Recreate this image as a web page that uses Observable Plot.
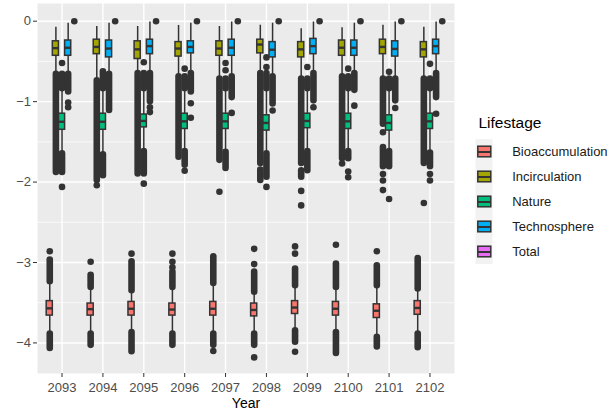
<!DOCTYPE html>
<html><head><meta charset="utf-8">
<script src="https://cdn.jsdelivr.net/npm/d3@7"></script>
<script src="https://cdn.jsdelivr.net/npm/@observablehq/plot@0.6"></script>
<style>
body{margin:0;background:#fff;}
#wrap{position:relative;width:610px;height:409px;}
#wrap svg{position:absolute;}
</style></head><body><div id="wrap"></div>
<script>
const FONT = '"Liberation Sans", Arial, Helvetica, sans-serif';

const years = [2093, 2094, 2095, 2096, 2097, 2098, 2099, 2100, 2101, 2102];
const stages = ["Bioaccumulation", "Incirculation", "Nature", "Technosphere", "Total"];
const stageColors = ["#F8766D", "#A3A500", "#00BF7D", "#00B0F6", "#E76BF3"];
const yTicks = [0, -1, -2, -3, -4];
const yMinor = [-0.5, -1.5, -2.5, -3.5];
const xTitle = "Year";
const legendTitle = "Lifestage";

// Box statistics (lower whisker, Q1, median, Q3, upper whisker) per year
const bioLo  = [-3.89, -3.89, -3.87, -3.89, -3.89, -3.89, -3.85, -3.87, -3.93, -3.89];
const bioQ1  = [-3.66, -3.66, -3.66, -3.66, -3.66, -3.67, -3.64, -3.66, -3.69, -3.65];
const bioMed = [-3.57, -3.58, -3.575, -3.585, -3.575, -3.59, -3.56, -3.575, -3.60, -3.565];
const bioQ3  = [-3.48, -3.51, -3.49, -3.51, -3.49, -3.51, -3.48, -3.49, -3.52, -3.48];
const bioHi  = [-3.24, -3.31, -3.35, -3.31, -3.26, -3.37, -3.29, -3.31, -3.29, -3.33];

const incLo  = [-0.64, -0.72, -0.63, -0.67, -0.70, -0.63, -0.70, -0.67, -0.70, -0.70];
const incQ1  = [-0.43, -0.41, -0.47, -0.44, -0.43, -0.40, -0.45, -0.43, -0.41, -0.45];
const incMed = [-0.335, -0.32, -0.35, -0.34, -0.34, -0.29, -0.35, -0.33, -0.32, -0.35];
const incQ3  = [-0.25, -0.23, -0.25, -0.26, -0.25, -0.23, -0.26, -0.24, -0.23, -0.26];
const incHi  = [-0.075, -0.066, -0.066, -0.053, -0.066, -0.05, -0.095, -0.08, -0.05, -0.075];

const natLo  = [-1.63, -1.64, -1.61, -1.61, -1.62, -1.64, -1.61, -1.61, -1.61, -1.63];
const natQ1  = [-1.35, -1.35, -1.32, -1.34, -1.34, -1.36, -1.33, -1.34, -1.36, -1.34];
const natMed = [-1.25, -1.25, -1.24, -1.245, -1.245, -1.265, -1.24, -1.245, -1.265, -1.245];
const natQ3  = [-1.15, -1.15, -1.16, -1.15, -1.15, -1.17, -1.15, -1.15, -1.17, -1.15];
const natHi  = [-0.86, -0.86, -0.86, -0.86, -0.86, -0.86, -0.86, -0.86, -0.86, -0.86];

const tecLo  = [-0.64, -0.64, -0.63, -0.63, -0.67, -0.67, -0.63, -0.63, -0.70, -0.63];
const tecQ1  = [-0.43, -0.45, -0.41, -0.40, -0.43, -0.45, -0.41, -0.43, -0.44, -0.41];
const tecMed = [-0.33, -0.34, -0.31, -0.32, -0.33, -0.355, -0.31, -0.33, -0.345, -0.31];
const tecQ3  = [-0.24, -0.24, -0.23, -0.25, -0.23, -0.26, -0.22, -0.24, -0.25, -0.23];
const tecHi  = [-0.025, -0.025, -0.01, -0.025, -0.01, -0.025, -0.01, -0.025, -0.01, -0.01];

const totalValue = [0, 0, 0, 0, 0, 0, 0, 0, 0, 0];

// Dense outlier runs [year, from, to]
const bioRuns = [
  [2093, -2.97, -3.24], [2093, -3.89, -4.07],
  [2094, -3.16, -3.31], [2094, -3.89, -4.03],
  [2095, -2.99, -3.35], [2095, -3.87, -4.11],
  [2096, -3.12, -3.31], [2096, -3.89, -4.03],
  [2097, -2.93, -3.26], [2097, -3.89, -4.03],
  [2098, -3.12, -3.37], [2098, -3.89, -4.03],
  [2099, -3.08, -3.29], [2099, -3.85, -3.99],
  [2100, -3.02, -3.31], [2100, -3.87, -4.13],
  [2101, -3.04, -3.29], [2101, -3.93, -4.05],
  [2102, -2.95, -3.33], [2102, -3.89, -4.06]
];
const incRuns = [
  [2093, -0.66, -1.88], [2094, -0.74, -1.98], [2095, -0.65, -1.90],
  [2096, -0.69, -1.69], [2097, -0.72, -1.73], [2098, -0.65, -1.77],
  [2098, -1.85, -1.98], [2099, -0.72, -1.77], [2099, -1.86, -1.94],
  [2100, -0.69, -1.71], [2101, -0.72, -1.28], [2101, -1.57, -1.81],
  [2102, -0.72, -1.77]
];
const natRuns = [
  [2093, -0.66, -0.84], [2093, -1.65, -1.88],
  [2094, -0.63, -0.84], [2094, -1.66, -1.92],
  [2095, -0.65, -0.84], [2095, -1.62, -1.90],
  [2096, -0.69, -0.84], [2096, -1.62, -1.79],
  [2097, -0.72, -0.84], [2097, -1.63, -1.83],
  [2098, -0.65, -0.84], [2098, -1.65, -1.94],
  [2099, -0.72, -0.84], [2099, -1.62, -1.86],
  [2100, -0.69, -0.84], [2100, -1.62, -1.71],
  [2101, -0.72, -0.84], [2101, -1.62, -1.81],
  [2102, -0.72, -0.84], [2102, -1.64, -1.81]
];
const tecRuns = [
  [2093, -0.66, -0.88], [2094, -0.66, -1.11], [2095, -0.65, -1.00],
  [2096, -0.65, -0.88], [2097, -0.69, -0.95], [2098, -0.69, -1.03],
  [2099, -0.65, -0.99], [2100, -0.65, -0.86], [2101, -0.72, -0.99],
  [2102, -0.65, -0.95]
];

// Isolated outliers [year, value]
const bioPoints = [
  [2093, -2.86], [2094, -2.99], [2095, -2.89], [2096, -2.89], [2096, -2.99], [2096, -3.06],
  [2097, -4.10], [2098, -2.83], [2098, -3.02], [2098, -4.18], [2099, -2.80], [2099, -2.89],
  [2099, -4.11], [2100, -2.78], [2101, -2.86]
];
const incPoints = [
  [2094, -2.04], [2097, -2.12], [2099, -2.11], [2099, -2.29], [2100, -1.77],
  [2101, -1.38], [2101, -1.90], [2101, -1.98], [2101, -2.10], [2102, -2.26]
];
const natPoints = [
  [2093, -0.52], [2093, -2.06], [2095, -0.51], [2095, -2.02], [2096, -0.59], [2096, -1.86],
  [2097, -0.52], [2097, -0.61], [2098, -0.45], [2098, -0.57], [2098, -2.06], [2099, -0.57],
  [2100, -0.59], [2100, -1.87], [2100, -1.94], [2101, -0.63], [2101, -2.21],
  [2102, -0.53], [2102, -1.90], [2102, -1.98]
];
const tecPoints = [
  [2093, -1.01], [2093, -1.07], [2095, -1.07], [2095, -1.13], [2096, -1.02], [2096, -1.20],
  [2097, -1.14], [2098, -1.11], [2099, -1.07], [2100, -1.05], [2101, -1.08], [2102, -1.15]
];

// ---- build tables ----
const dodge = stages.map((s, i) => (i - 2) * 0.15);
const halfW = 0.075;
const statSets = [
  [bioLo, bioQ1, bioMed, bioQ3, bioHi],
  [incLo, incQ1, incMed, incQ3, incHi],
  [natLo, natQ1, natMed, natQ3, natHi],
  [tecLo, tecQ1, tecMed, tecQ3, tecHi]
];
const boxes = [];
statSets.forEach((st, si) => {
  years.forEach((yr, j) => {
    boxes.push({stage: stages[si], pos: yr + dodge[si], lo: st[0][j], q1: st[1][j], med: st[2][j], q3: st[3][j], hi: st[4][j]});
  });
});
const runs = [];
[bioRuns, incRuns, natRuns, tecRuns].forEach((arr, si) => arr.forEach(([yr, a, b]) => runs.push({pos: yr + dodge[si], from: a, to: b})));
const points = [];
[bioPoints, incPoints, natPoints, tecPoints].forEach((arr, si) => arr.forEach(([yr, v]) => points.push({pos: yr + dodge[si], v})));
years.forEach((yr, j) => points.push({pos: yr + dodge[4], v: totalValue[j]}));

const DARK = "#333333";
const main = Plot.plot({
  width: 610, height: 409,
  marginLeft: 37, marginRight: 156, marginTop: 3, marginBottom: 36,
  style: {fontFamily: FONT, fontSize: "13px", background: "transparent", overflow: "visible"},
  x: {domain: [2092.4, 2102.6]},
  y: {domain: [-4.38, 0.22]},
  color: {domain: stages, range: stageColors},
  marks: [
    Plot.frame({fill: "#EBEBEB", stroke: null}),
    Plot.ruleY(yMinor, {stroke: "#fff", strokeWidth: 0.7}),
    Plot.ruleY(yTicks, {stroke: "#fff", strokeWidth: 1.4}),
    Plot.ruleX(years, {stroke: "#fff", strokeWidth: 1.4}),
    Plot.ruleX(runs, {x: "pos", y1: "from", y2: "to", stroke: DARK, strokeWidth: 6.6, strokeLinecap: "round"}),
    Plot.dot(points, {x: "pos", y: "v", r: 3.3, fill: DARK, stroke: null}),
    Plot.ruleX(boxes, {x: "pos", y1: "lo", y2: "hi", stroke: DARK, strokeWidth: 1.5}),
    Plot.rect(boxes, {x1: d => d.pos - halfW, x2: d => d.pos + halfW, y1: "q1", y2: "q3", fill: "stage", stroke: DARK, strokeWidth: 1.5}),
    Plot.ruleY(boxes, {y: "med", x1: d => d.pos - halfW, x2: d => d.pos + halfW, stroke: DARK, strokeWidth: 2.4}),
    Plot.axisX({ticks: years, tickFormat: d => String(d), tickSize: 4, tickPadding: 5, stroke: DARK, fill: "#4D4D4D", fontSize: 13, label: null}),
    Plot.axisY({ticks: yTicks, tickFormat: d => d < 0 ? "\u2212" + Math.abs(d) : String(d), tickSize: 4, tickPadding: 2.5, stroke: DARK, fill: "#4D4D4D", fontSize: 13, label: null}),
    Plot.text([xTitle], {frameAnchor: "bottom", dy: 34, lineAnchor: "bottom", fontSize: 14, fill: "#000"})
  ]
});

const legend = Plot.plot({
  width: 140, height: 170,
  marginLeft: 0, marginRight: 0, marginTop: 0, marginBottom: 0,
  style: {fontFamily: FONT, background: "transparent", overflow: "visible"},
  x: {domain: [0, 140], range: [0, 140], axis: null},
  y: {type: "band", domain: stages, range: [37.5, 164.5], padding: 0, axis: null},
  color: {domain: stages, range: stageColors},
  marks: [
    Plot.barX(stages, {y: d => d, x1: 5.5, x2: 22.5, fill: "#F2F2F2"}),
    Plot.ruleX(stages, {x: 14, y: d => d, stroke: DARK, strokeWidth: 1.3, insetTop: 2.5, insetBottom: 2.5}),
    Plot.barX(stages, {y: d => d, x1: 7.8, x2: 20.8, fill: d => d, stroke: DARK, strokeWidth: 1.5, insetTop: 7.2, insetBottom: 7.2}),
    Plot.ruleY(stages, {y: d => d, x1: 7.8, x2: 20.8, stroke: DARK, strokeWidth: 2}),
    Plot.text(stages, {y: d => d, x: 41.7, text: d => d, textAnchor: "start", fontSize: 13, fill: "#1a1a1a"}),
    Plot.text([legendTitle], {frameAnchor: "top-left", dx: 8, dy: 27, lineAnchor: "bottom", textAnchor: "start", fontSize: 15.5, fill: "#000"})
  ]
});

const wrap = document.getElementById("wrap");
main.style.left = "0px"; main.style.top = "0px";
legend.style.left = "470px"; legend.style.top = "100px";
wrap.appendChild(main);
wrap.appendChild(legend);
</script>
</body></html>
